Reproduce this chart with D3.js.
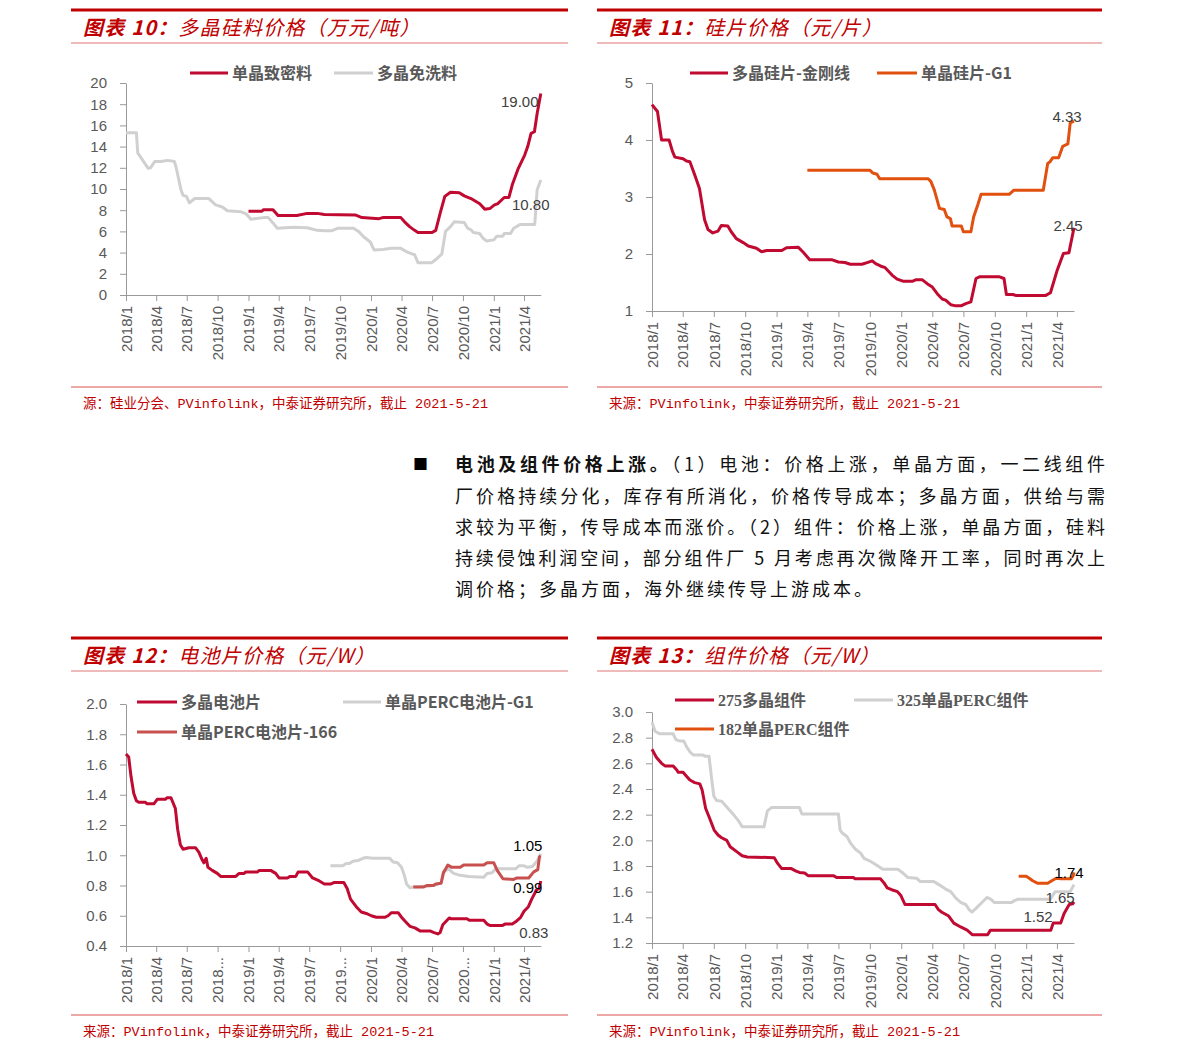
<!DOCTYPE html>
<html><head><meta charset="utf-8">
<script src="https://cdn.jsdelivr.net/npm/d3@7"></script>
<style>
body{margin:0;background:#fff;}
svg{display:block;}
</style></head>
<body>
<svg id="c" width="1191" height="1059"></svg>
<script>
// ---------------- DATA ----------------
const xTickLabels = ['2018/1','2018/4','2018/7','2018/10','2019/1','2019/4','2019/7','2019/10','2020/1','2020/4','2020/7','2020/10','2021/1','2021/4'];
const xTickLabels12 = ['2018/1','2018/4','2018/7','2018...','2019/1','2019/4','2019/7','2019...','2020/1','2020/4','2020/7','2020...','2021/1','2021/4'];

// 图表10 多晶硅料价格（万元/吨）
const yTicks10 = [0,2,4,6,8,10,12,14,16,18,20];
const c10Names = ['单晶致密料','多晶免洗料'];
const c10Mono = [['2019-01-01',7.9],['2019-02-10',7.9],['2019-02-15',8.05],['2019-03-15',8.05],['2019-03-30',7.5],['2019-05-25',7.5],['2019-06-25',7.7],['2019-07-25',7.7],['2019-08-15',7.6],['2019-11-15',7.55],['2019-12-05',7.3],['2020-01-25',7.2],['2020-02-05',7.3],['2020-03-30',7.3],['2020-04-10',6.9],['2020-04-25',6.45],['2020-05-10',6.1],['2020-05-20',5.9],['2020-07-01',5.9],['2020-07-12',6.1],['2020-07-25',7.7],['2020-08-08',9.3],['2020-08-25',9.7],['2020-09-20',9.65],['2020-10-05',9.35],['2020-10-25',9.1],['2020-11-20',8.6],['2020-12-05',8.1],['2020-12-20',8.15],['2021-01-03',8.5],['2021-01-12',8.6],['2021-02-01',9.2],['2021-02-15',9.2],['2021-02-25',10.4],['2021-03-15',11.95],['2021-04-03',13.2],['2021-04-12',14.0],['2021-04-22',15.25],['2021-05-02',15.4],['2021-05-10',17.1],['2021-05-21',19.0]];
const c10Multi = [['2018-01-01',15.3],['2018-02-01',15.3],['2018-02-05',13.4],['2018-02-22',12.6],['2018-03-08',11.95],['2018-03-15',12.0],['2018-03-28',12.6],['2018-04-15',12.6],['2018-05-05',12.7],['2018-05-25',12.6],['2018-05-30',12.1],['2018-06-14',9.9],['2018-06-20',9.4],['2018-06-30',9.3],['2018-07-09',8.7],['2018-07-25',9.1],['2018-09-05',9.1],['2018-09-25',8.5],['2018-10-15',8.3],['2018-10-30',7.95],['2018-12-10',7.85],['2018-12-25',7.65],['2019-01-01',7.4],['2019-01-08',7.15],['2019-02-15',7.3],['2019-03-01',7.3],['2019-03-15',6.8],['2019-03-28',6.3],['2019-05-15',6.4],['2019-06-25',6.35],['2019-07-25',6.1],['2019-08-15',6.05],['2019-09-05',6.05],['2019-09-25',6.3],['2019-11-10',6.3],['2019-11-25',6.0],['2019-12-10',5.5],['2019-12-30',5.0],['2020-01-10',4.25],['2020-02-05',4.3],['2020-03-01',4.4],['2020-03-30',4.4],['2020-04-15',4.1],['2020-04-30',3.9],['2020-05-10',3.8],['2020-05-20',3.05],['2020-06-30',3.05],['2020-07-10',3.3],['2020-07-30',3.85],['2020-08-10',6.0],['2020-08-25',6.45],['2020-09-05',6.9],['2020-10-05',6.85],['2020-10-15',6.3],['2020-10-25',6.15],['2020-11-01',5.9],['2020-11-20',5.8],['2020-11-30',5.35],['2020-12-10',5.1],['2021-01-01',5.2],['2021-01-10',5.55],['2021-01-28',5.55],['2021-02-01',5.8],['2021-02-20',5.8],['2021-03-01',6.3],['2021-03-10',6.45],['2021-03-20',6.65],['2021-05-03',6.65],['2021-05-10',9.9],['2021-05-21',10.85]];
const c10Labels = ['19.00','10.80'];

// 图表11 硅片价格（元/片）
const yTicks11 = [1,2,3,4,5];
const c11Names = ['多晶硅片-金刚线','单晶硅片-G1'];
const c11Multi = [['2018-01-01',4.62],['2018-01-17',4.5],['2018-01-29',4.0],['2018-02-20',4.0],['2018-03-02',3.8],['2018-03-09',3.7],['2018-04-02',3.67],['2018-04-12',3.63],['2018-04-22',3.62],['2018-05-06',3.39],['2018-05-20',3.15],['2018-06-04',2.6],['2018-06-14',2.43],['2018-06-28',2.37],['2018-07-13',2.4],['2018-07-23',2.5],['2018-08-11',2.49],['2018-08-21',2.39],['2018-09-05',2.27],['2018-09-25',2.2],['2018-10-10',2.14],['2018-11-03',2.1],['2018-11-18',2.04],['2018-12-03',2.06],['2019-01-16',2.06],['2019-01-30',2.11],['2019-03-05',2.12],['2019-03-20',2.03],['2019-04-08',1.9],['2019-06-11',1.9],['2019-07-01',1.86],['2019-07-20',1.85],['2019-08-05',1.82],['2019-09-08',1.82],['2019-09-23',1.85],['2019-10-08',1.88],['2019-10-18',1.83],['2019-11-01',1.79],['2019-11-15',1.76],['2019-12-05',1.63],['2019-12-20',1.56],['2020-01-08',1.52],['2020-02-02',1.52],['2020-02-14',1.55],['2020-03-02',1.55],['2020-03-17',1.48],['2020-04-01',1.42],['2020-04-16',1.3],['2020-04-30',1.21],['2020-05-10',1.19],['2020-05-25',1.11],['2020-06-09',1.09],['2020-06-24',1.09],['2020-07-08',1.13],['2020-07-23',1.16],['2020-08-07',1.57],['2020-08-17',1.6],['2020-10-15',1.6],['2020-10-28',1.57],['2020-11-04',1.29],['2020-11-23',1.29],['2020-12-03',1.27],['2021-02-26',1.27],['2021-03-13',1.32],['2021-04-01',1.7],['2021-04-20',2.01],['2021-05-06',2.02],['2021-05-21',2.46]];
const c11Mono = [['2019-04-01',3.47],['2019-10-01',3.47],['2019-10-10',3.42],['2019-10-22',3.4],['2019-10-30',3.32],['2020-03-20',3.32],['2020-03-28',3.27],['2020-04-07',3.12],['2020-04-22',2.8],['2020-05-06',2.78],['2020-05-14',2.65],['2020-05-24',2.62],['2020-05-29',2.49],['2020-06-25',2.49],['2020-07-01',2.39],['2020-07-23',2.39],['2020-07-31',2.65],['2020-08-12',2.86],['2020-08-22',3.05],['2020-11-13',3.05],['2020-11-26',3.12],['2021-02-20',3.12],['2021-03-05',3.59],['2021-03-12',3.62],['2021-03-20',3.69],['2021-04-06',3.69],['2021-04-18',3.89],['2021-05-03',3.93],['2021-05-10',4.3],['2021-05-21',4.33]];
const c11Labels = ['2.45','4.33'];

// 图表12 电池片价格（元/W）
const yTicks12 = [0.4,0.6,0.8,1.0,1.2,1.4,1.6,1.8,2.0];
const c12Names = ['多晶电池片','单晶PERC电池片-G1','单晶PERC电池片-166'];
const c12Multi = [['2018-01-01',1.67],['2018-01-09',1.65],['2018-01-16',1.52],['2018-01-24',1.41],['2018-02-01',1.36],['2018-02-08',1.35],['2018-02-28',1.35],['2018-03-05',1.34],['2018-03-25',1.34],['2018-04-04',1.37],['2018-04-28',1.37],['2018-05-03',1.38],['2018-05-15',1.38],['2018-05-28',1.31],['2018-06-04',1.17],['2018-06-12',1.07],['2018-06-20',1.04],['2018-07-07',1.05],['2018-07-27',1.05],['2018-08-06',1.02],['2018-08-16',0.97],['2018-08-21',0.95],['2018-08-28',0.98],['2018-09-02',0.92],['2018-09-15',0.9],['2018-09-30',0.88],['2018-10-10',0.86],['2018-11-24',0.86],['2018-12-04',0.88],['2018-12-19',0.88],['2018-12-24',0.89],['2019-01-28',0.89],['2019-02-02',0.9],['2019-03-08',0.9],['2019-03-23',0.88],['2019-04-02',0.85],['2019-04-27',0.85],['2019-05-05',0.86],['2019-05-22',0.86],['2019-05-29',0.89],['2019-06-26',0.89],['2019-07-11',0.85],['2019-07-31',0.83],['2019-08-15',0.81],['2019-09-04',0.81],['2019-09-14',0.82],['2019-10-12',0.82],['2019-10-22',0.78],['2019-11-01',0.71],['2019-11-18',0.66],['2019-12-03',0.625],['2019-12-18',0.615],['2020-01-02',0.6],['2020-01-17',0.59],['2020-02-11',0.59],['2020-02-21',0.6],['2020-03-02',0.62],['2020-03-22',0.62],['2020-04-01',0.59],['2020-04-11',0.565],['2020-04-26',0.53],['2020-05-11',0.52],['2020-05-26',0.5],['2020-06-25',0.5],['2020-07-05',0.49],['2020-07-18',0.48],['2020-07-25',0.49],['2020-08-02',0.54],['2020-08-21',0.585],['2020-08-27',0.58],['2020-10-13',0.58],['2020-10-20',0.57],['2020-12-02',0.57],['2020-12-12',0.545],['2020-12-22',0.535],['2021-01-26',0.535],['2021-02-03',0.545],['2021-02-25',0.545],['2021-03-07',0.56],['2021-03-22',0.59],['2021-04-01',0.63],['2021-04-14',0.66],['2021-04-24',0.71],['2021-05-08',0.77],['2021-05-16',0.78],['2021-05-21',0.83]];
const c12G1 = [['2019-09-02',0.93],['2019-10-09',0.93],['2019-10-19',0.945],['2019-10-29',0.945],['2019-11-08',0.96],['2019-11-23',0.965],['2019-12-08',0.98],['2019-12-18',0.985],['2020-01-07',0.98],['2020-02-26',0.98],['2020-03-07',0.955],['2020-03-20',0.95],['2020-04-01',0.92],['2020-04-09',0.87],['2020-04-16',0.81],['2020-04-26',0.785],['2020-05-06',0.79],['2020-06-20',0.795],['2020-07-15',0.805],['2020-07-28',0.82],['2020-08-04',0.89],['2020-08-19',0.91],['2020-09-03',0.88],['2020-09-18',0.87],['2020-10-18',0.86],['2020-12-02',0.855],['2020-12-12',0.88],['2020-12-27',0.885],['2021-01-06',0.91],['2021-03-07',0.91],['2021-03-17',0.93],['2021-04-01',0.93],['2021-04-11',0.92],['2021-04-26',0.925],['2021-05-11',0.965],['2021-05-21',1.01]];
const c12M166 = [['2020-05-06',0.79],['2020-06-05',0.79],['2020-06-15',0.8],['2020-07-05',0.8],['2020-07-12',0.81],['2020-07-28',0.815],['2020-08-04',0.885],['2020-08-17',0.935],['2020-08-29',0.92],['2020-09-23',0.92],['2020-10-03',0.935],['2020-12-02',0.935],['2020-12-12',0.95],['2021-01-01',0.95],['2021-01-11',0.9],['2021-01-28',0.845],['2021-03-01',0.84],['2021-03-11',0.85],['2021-04-15',0.85],['2021-04-30',0.89],['2021-05-12',0.905],['2021-05-17',0.99],['2021-05-21',0.995]];
const c12Labels = ['0.83','1.05','0.99'];

// 图表13 组件价格（元/W）
const yTicks13 = [1.2,1.4,1.6,1.8,2.0,2.2,2.4,2.6,2.8,3.0];
const c13Names = ['275多晶组件','325单晶PERC组件','182单晶PERC组件'];
const c13Multi = [['2018-01-01',2.71],['2018-01-13',2.65],['2018-01-29',2.6],['2018-02-08',2.58],['2018-03-04',2.58],['2018-03-14',2.55],['2018-03-19',2.53],['2018-04-02',2.53],['2018-04-12',2.5],['2018-04-22',2.47],['2018-05-06',2.45],['2018-05-21',2.44],['2018-05-28',2.39],['2018-06-07',2.25],['2018-06-19',2.17],['2018-07-02',2.08],['2018-07-14',2.04],['2018-07-24',2.02],['2018-08-08',2.0],['2018-08-18',1.95],['2018-09-07',1.91],['2018-09-22',1.88],['2018-10-07',1.87],['2018-12-25',1.865],['2019-01-04',1.82],['2019-01-16',1.78],['2019-02-13',1.78],['2019-02-27',1.76],['2019-03-09',1.75],['2019-03-24',1.745],['2019-04-03',1.725],['2019-06-16',1.725],['2019-06-26',1.71],['2019-08-14',1.71],['2019-08-19',1.7],['2019-11-01',1.7],['2019-11-11',1.67],['2019-11-21',1.63],['2019-12-04',1.615],['2019-12-21',1.6],['2019-12-31',1.57],['2020-01-12',1.5],['2020-04-09',1.5],['2020-04-19',1.46],['2020-04-29',1.44],['2020-05-19',1.41],['2020-06-03',1.355],['2020-06-23',1.325],['2020-07-12',1.3],['2020-07-27',1.265],['2020-09-10',1.265],['2020-09-18',1.3],['2021-03-14',1.3],['2021-03-21',1.355],['2021-04-12',1.355],['2021-04-22',1.43],['2021-05-07',1.5],['2021-05-17',1.505],['2021-05-21',1.52]];
const c13Perc325 = [['2018-01-01',2.92],['2018-01-10',2.85],['2018-01-24',2.83],['2018-03-04',2.83],['2018-03-12',2.785],['2018-03-23',2.775],['2018-04-04',2.775],['2018-04-12',2.73],['2018-04-22',2.69],['2018-05-02',2.665],['2018-05-31',2.665],['2018-06-05',2.655],['2018-06-17',2.655],['2018-06-24',2.495],['2018-07-01',2.345],['2018-07-09',2.31],['2018-07-24',2.305],['2018-08-08',2.26],['2018-08-28',2.2],['2018-09-12',2.15],['2018-09-22',2.105],['2018-11-25',2.105],['2018-12-05',2.23],['2018-12-17',2.255],['2019-03-09',2.255],['2019-03-16',2.205],['2019-07-01',2.205],['2019-07-06',2.08],['2019-07-13',2.055],['2019-07-26',2.03],['2019-08-05',1.98],['2019-08-20',1.93],['2019-09-04',1.9],['2019-09-14',1.86],['2019-10-04',1.835],['2019-10-19',1.81],['2019-11-08',1.775],['2019-12-22',1.775],['2020-01-06',1.745],['2020-01-21',1.71],['2020-02-15',1.705],['2020-02-25',1.68],['2020-04-05',1.68],['2020-04-20',1.655],['2020-05-10',1.62],['2020-05-25',1.6],['2020-06-09',1.55],['2020-06-24',1.515],['2020-07-08',1.5],['2020-07-18',1.46],['2020-07-26',1.44],['2020-08-07',1.47],['2020-08-22',1.51],['2020-09-08',1.555],['2020-09-20',1.54],['2020-09-30',1.515],['2020-11-18',1.515],['2020-11-28',1.53],['2020-12-06',1.54],['2021-03-12',1.54],['2021-03-17',1.56],['2021-03-27',1.6],['2021-05-10',1.6],['2021-05-21',1.655]];
const c13Perc182 = [['2020-12-10',1.72],['2021-01-01',1.72],['2021-01-10',1.705],['2021-01-20',1.685],['2021-02-04',1.665],['2021-03-05',1.665],['2021-03-17',1.685],['2021-03-30',1.705],['2021-04-13',1.7],['2021-05-13',1.7],['2021-05-18',1.72],['2021-05-21',1.75]];
const c13Labels = ['1.52','1.65','1.74'];

const sourceA = '源：硅业分会、PVinfolink，中泰证券研究所，截止 2021-5-21';
const sourceB = '来源：PVinfolink，中泰证券研究所，截止 2021-5-21';

const paraLines = [
  ['电池及组件价格上涨。','（1）电池：价格上涨，单晶方面，一二线组件'],
  ['','厂价格持续分化，库存有所消化，价格传导成本；多晶方面，供给与需'],
  ['','求较为平衡，传导成本而涨价。（2）组件：价格上涨，单晶方面，硅料'],
  ['','持续侵蚀利润空间，部分组件厂 5 月考虑再次微降开工率，同时再次上'],
  ['','调价格；多晶方面，海外继续传导上游成本。']
];

// ---------------- DRAWING ----------------
const RED = '#C00A32', GRAY = '#D0D0D0', ORANGE = '#E2500F', RED166 = '#C8504F';
const parse = d3.timeParse('%Y-%m-%d');
const svg = d3.select('#c');
const tickDates = d3.timeMonth.every(3).range(parse('2018-01-01'), parse('2021-04-02'));
const CJK = '"Noto Sans CJK SC", "Liberation Sans", sans-serif';
const NUM = '"Liberation Sans", Arial, sans-serif';

function panel(p){
  const g = svg.append('g');
  g.append('line').attr('x1',p.fx0).attr('x2',p.fx1).attr('y1',p.top).attr('y2',p.top)
    .attr('stroke','#C00000').attr('stroke-width',3);
  const t = g.append('text').attr('x',p.fx0+12).attr('y',p.top+25)
    .attr('fill','#C00000').attr('font-size',20).attr('font-style','italic')
    .attr('letter-spacing',1.2).attr('font-family',CJK);
  t.append('tspan').attr('font-weight','bold').text(p.titleA);
  t.append('tspan').text(p.titleB);
  g.append('line').attr('x1',p.fx0).attr('x2',p.fx1).attr('y1',p.top+33).attr('y2',p.top+33)
    .attr('stroke','#E9A3A3').attr('stroke-width',1.5);

  const x = d3.scaleTime().domain([parse('2018-01-01'), parse('2021-05-21')]).range(p.xr);
  const y = d3.scaleLinear().domain(p.yd).range(p.yr);

  const ya = g.append('g').attr('transform',`translate(${p.xr[0]},0)`)
    .call(d3.axisLeft(y).tickValues(p.yTicks).tickSize(6).tickSizeOuter(0).tickPadding(13).tickFormat(p.yFmt));
  const xa = g.append('g').attr('transform',`translate(0,${p.yr[0]})`)
    .call(d3.axisBottom(x).tickValues(tickDates).tickSize(6).tickSizeOuter(0).tickFormat((d,i)=>p.xLabels[i]));
  [ya,xa].forEach(a=>{
    a.select('.domain').attr('stroke','#9a9a9a');
    a.selectAll('.tick line').attr('stroke','#9a9a9a');
    a.selectAll('text').attr('fill','#595959').attr('font-size',15).attr('font-family',NUM);
  });
  xa.selectAll('.tick text').attr('transform','rotate(-90)').attr('x',-11).attr('y',0)
    .attr('dy','0.35em').attr('text-anchor','end');

  const line = d3.line().x(d=>x(parse(d[0]))).y(d=>y(d[1]));
  p.series.forEach(s=>{
    g.append('path').datum(s.data).attr('d',line).attr('fill','none')
      .attr('stroke',s.color).attr('stroke-width',3).attr('stroke-linejoin','round');
  });
  p.series.forEach((s,i)=>{
    if(!s.label) return;
    const last = s.data[s.data.length-1];
    g.append('text').attr('x',x(parse(last[0]))+s.ldx).attr('y',y(last[1])+s.ldy)
      .attr('dy','0.35em').attr('text-anchor','middle').attr('font-size',15)
      .attr('font-family',NUM).attr('fill',s.lcolor||'#404040').text(s.label);
  });
  p.legend.forEach(l=>{
    g.append('line').attr('x1',l.x1).attr('x2',l.x2).attr('y1',l.y).attr('y2',l.y)
      .attr('stroke',l.color).attr('stroke-width',3);
    g.append('text').attr('x',l.x2+4).attr('y',l.y).attr('dy','0.36em')
      .attr('font-size',16).attr('font-weight','bold').attr('fill','#595959')
      .attr('font-family',l.serif?'"Liberation Serif", "Noto Sans CJK SC", serif':CJK).text(l.name);
  });
  g.append('line').attr('x1',p.fx0).attr('x2',p.fx1).attr('y1',p.srcY).attr('y2',p.srcY)
    .attr('stroke','#D9534F').attr('stroke-width',1);
  g.append('text').attr('x',p.fx0+12).attr('y',p.srcY+16).attr('dy','0.35em')
    .attr('font-size',13.5).attr('fill','#C00000')
    .attr('font-family','"Liberation Mono", "Noto Sans CJK SC", monospace').text(p.source);
}

const f1 = d3.format('.1f');
panel({fx0:71, fx1:568, top:10, titleA:'图表 10：', titleB:'多晶硅料价格（万元/吨）',
  xr:[126,540.8], yd:[0,20], yr:[295,83], yTicks:yTicks10, yFmt:d3.format('d'), xLabels:xTickLabels,
  series:[{data:c10Multi,color:GRAY,label:c10Labels[1],ldx:-10,ldy:25},
          {data:c10Mono,color:RED,label:c10Labels[0],ldx:-21,ldy:8}],
  legend:[{x1:190,x2:228,y:73,color:RED,name:c10Names[0]},{x1:334,x2:373,y:73,color:GRAY,name:c10Names[1]}],
  srcY:387, source:sourceA});

panel({fx0:597, fx1:1102, top:10, titleA:'图表 11：', titleB:'硅片价格（元/片）',
  xr:[652,1074], yd:[1,5], yr:[311,83], yTicks:yTicks11, yFmt:d3.format('d'), xLabels:xTickLabels,
  series:[{data:c11Multi,color:RED,label:c11Labels[0],ldx:-6,ldy:-2},
          {data:c11Mono,color:ORANGE,label:c11Labels[1],ldx:-7,ldy:-4}],
  legend:[{x1:690,x2:728,y:73,color:RED,name:c11Names[0]},{x1:877,x2:917,y:73,color:ORANGE,name:c11Names[1]}],
  srcY:387, source:sourceB});

panel({fx0:71, fx1:568, top:638, titleA:'图表 12：', titleB:'电池片价格（元/W）',
  xr:[126,540.8], yd:[0.4,2.0], yr:[946,704], yTicks:yTicks12, yFmt:f1, xLabels:xTickLabels12,
  series:[{data:c12Multi,color:RED,label:c12Labels[0],ldx:-7,ldy:52},
          {data:c12G1,color:GRAY,label:c12Labels[1],ldx:-13,ldy:-8,lcolor:'#000'},
          {data:c12M166,color:RED166,label:c12Labels[2],ldx:-13,ldy:32,lcolor:'#000'}],
  legend:[{x1:137,x2:177,y:702,color:RED,name:c12Names[0]},{x1:343,x2:381,y:702,color:GRAY,name:c12Names[1]},
          {x1:137,x2:177,y:732,color:RED166,name:c12Names[2]}],
  srcY:1015, source:sourceB});

panel({fx0:597, fx1:1102, top:638, titleA:'图表 13：', titleB:'组件价格（元/W）',
  xr:[652,1074], yd:[1.2,3.0], yr:[943,712], yTicks:yTicks13, yFmt:f1, xLabels:xTickLabels,
  series:[{data:c13Perc325,color:GRAY,label:c13Labels[1],ldx:-14,ldy:13},
          {data:c13Multi,color:RED,label:c13Labels[0],ldx:-36,ldy:15},
          {data:c13Perc182,color:ORANGE,label:c13Labels[2],ldx:-5,ldy:0,lcolor:'#000'}],
  legend:[{x1:675,x2:714,y:700,color:RED,name:c13Names[0],serif:true},{x1:854,x2:893,y:700,color:GRAY,name:c13Names[1],serif:true},
          {x1:675,x2:714,y:729,color:ORANGE,name:c13Names[2],serif:true}],
  srcY:1015, source:sourceB});

// paragraph
svg.append('text').attr('x',413).attr('y',465).attr('dy','0.35em').attr('font-size',15)
  .attr('font-family',CJK).attr('fill','#000').text('■');
paraLines.forEach((ln,i)=>{
  const t = svg.append('text').attr('x',455).attr('y',465+i*31.2).attr('dy','0.36em')
    .attr('font-size',18).attr('font-family',CJK).attr('fill','#111');
  if(i<4) t.attr('textLength',650).attr('lengthAdjust','spacing');
  else t.attr('letter-spacing',3);
  if(ln[0]) t.append('tspan').attr('font-weight','bold').text(ln[0]);
  t.append('tspan').text(ln[1]);
});
</script>
</body></html>
